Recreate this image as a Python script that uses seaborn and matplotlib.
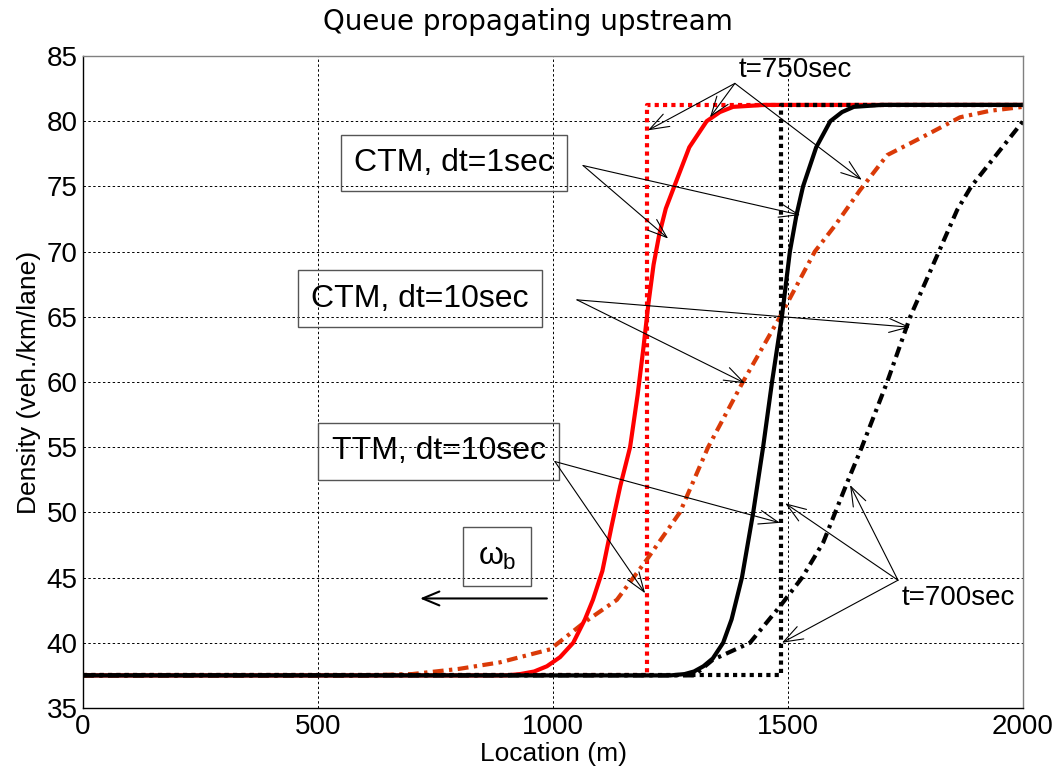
import numpy as np
import pandas as pd
import matplotlib
matplotlib.use("Agg")
import matplotlib.pyplot as plt
import seaborn as sns

# ---------------- data ----------------
# CTM, dt=1sec, t=750sec (red solid)
x_ctm1_750 = [0, 900, 930, 960, 987, 1015, 1043, 1068, 1085, 1105, 1125, 1143, 1164, 1180, 1192,
              1203, 1214, 1226, 1240, 1258, 1290, 1327, 1355, 1383, 1450, 2000]
y_ctm1_750 = [37.5, 37.5, 37.6, 37.8, 38.2, 38.9, 40, 41.8, 43.3, 45.5, 49, 52, 55, 59, 62.5,
              66, 69, 71.3, 73.3, 75, 78, 80, 80.7, 81.1, 81.25, 81.25]
# TTM, dt=10sec, t=750sec (red dotted)
x_ttm_750 = [0, 1200, 1200, 2000]
y_ttm_750 = [37.5, 37.5, 81.25, 81.25]
# CTM, dt=10sec, t=750sec (red dash-dot)
x_ctm10_750 = [0, 600, 700, 800, 887, 994, 1068, 1136, 1200, 1270, 1330, 1404, 1483,
               1557, 1600, 1653, 1711, 1787, 1866, 1930, 2000]
y_ctm10_750 = [37.5, 37.5, 37.6, 38.0, 38.5, 39.5, 41.6, 43.3, 46.4, 50, 55, 60, 65,
               70, 72, 74.7, 77.4, 78.8, 80.3, 80.8, 81.1]
# CTM, dt=1sec, t=700sec (black solid)
x_ctm1_700 = [0, 1250, 1280, 1300, 1320, 1340, 1362, 1380, 1402, 1426, 1447, 1466, 1487, 1504,
              1518, 1532, 1560, 1590, 1615, 1640, 1700, 2000]
y_ctm1_700 = [37.5, 37.5, 37.6, 37.8, 38.2, 38.8, 40, 41.8, 45, 50, 55, 60, 65, 70,
              72.8, 75, 78, 80, 80.7, 81.1, 81.25, 81.25]
# TTM, dt=10sec, t=700sec (black dotted)
x_ttm_700 = [0, 1485, 1485, 2000]
y_ttm_700 = [37.5, 37.5, 81.25, 81.25]
# CTM, dt=10sec, t=700sec (black dash-dot)
x_ctm10_700 = [0, 1300, 1340, 1419, 1483, 1530, 1575, 1626, 1657, 1711, 1760, 1821,
               1860, 1890, 2000]
y_ctm10_700 = [37.5, 37.5, 38.7, 40, 42.8, 45, 47.7, 52.3, 55, 60, 65, 70,
               73.2, 75, 80]

x_ticks = [0, 500, 1000, 1500, 2000]
y_ticks = [35, 40, 45, 50, 55, 60, 65, 70, 75, 80, 85]

title = "Queue propagating upstream"
xlabel = "Location (m)"
ylabel = "Density (veh./km/lane)"

# ---------------- style ----------------
sns.set_theme(style="white")
plt.rcParams['font.family'] = ['Liberation Sans', 'DejaVu Sans']
plt.rcParams['mathtext.fontset'] = 'custom'
plt.rcParams['mathtext.rm'] = 'Liberation Sans'
plt.rcParams['mathtext.it'] = 'Liberation Sans'
plt.rcParams['text.color'] = 'black'
plt.rcParams['axes.labelcolor'] = 'black'
plt.rcParams['xtick.color'] = 'black'
plt.rcParams['ytick.color'] = 'black'

RED = '#ff0000'
ORANGE = '#da3a08'
BLACK = '#000000'
LW = 3.0
dotted = (0, (1.0, 1.0))
dashdot = (0, (2.6, 1.3, 0.8, 1.3))

fig = plt.figure(figsize=(10.62, 7.76), dpi=100)
ax = fig.add_axes([83 / 1062, 1 - 708 / 776, 940 / 1062, 652 / 776])

series = [
    (x_ttm_750, y_ttm_750, RED, dotted),
    (x_ctm10_750, y_ctm10_750, ORANGE, dashdot),
    (x_ctm1_750, y_ctm1_750, RED, '-'),
    (x_ttm_700, y_ttm_700, BLACK, dotted),
    (x_ctm10_700, y_ctm10_700, BLACK, dashdot),
    (x_ctm1_700, y_ctm1_700, BLACK, '-'),
]
for xs, ys, col, ls in series:
    df = pd.DataFrame({'x': xs, 'y': ys})
    sns.lineplot(data=df, x='x', y='y', ax=ax, color=col, linewidth=LW,
                 estimator=None, sort=False, legend=False)
    line = ax.get_lines()[-1]
    line.set_linestyle(ls)
    line.set_dash_capstyle('butt')
    line.set_solid_capstyle('butt')
    line.set_solid_joinstyle('round')

ax.set_xlim(0, 2000)
ax.set_ylim(35, 85)
ax.set_xticks(x_ticks)
ax.set_yticks(y_ticks)
ax.tick_params(axis='both', labelsize=20, direction='in', length=5,
               colors='black', pad=4)
ax.grid(True, color='black', linestyle=(0, (2.5, 2.5)), linewidth=0.7)
for s in ['left', 'bottom']:
    ax.spines[s].set_color('black')
for s in ['top', 'right']:
    ax.spines[s].set_color('#808080')
for s in ax.spines.values():
    s.set_linewidth(1.0)

ax.set_xlabel(xlabel, fontsize=19, labelpad=2)
ax.set_ylabel(ylabel, fontsize=19, labelpad=4)
fig.text(528 / 1062, 1 - 22 / 776, title, fontsize=20, ha='center', va='center',
         family=['DejaVu Sans'])

# ---------------- annotations ----------------
arrow_kw = dict(arrowstyle='->,head_length=0.7,head_width=0.25', lw=0.8,
                color='black', shrinkA=0, shrinkB=0, mutation_scale=20)
box_kw = dict(boxstyle='square,pad=0.42', facecolor='none', edgecolor='#555555', lw=1.0)


def label_with_arrows(text, pos, start, tips, box=True, size=23):
    ax.text(pos[0], pos[1], text, fontsize=size, ha='center', va='center',
            bbox=box_kw if box else None, zorder=5)
    for tip in tips:
        ax.annotate('', xy=tip, xytext=start, arrowprops=arrow_kw, zorder=6)


label_with_arrows("t=750sec", (1515, 83.9), (1387, 82.9),
                  [(1202, 79.3), (1334, 80.3), (1657, 75.5)], box=False, size=20)
label_with_arrows("CTM, dt=1sec", (789, 76.8), (1064, 76.6),
                  [(1245, 71.0), (1526, 72.8)])
label_with_arrows("CTM, dt=10sec", (717, 66.4), (1051, 66.3),
                  [(1409, 59.9), (1760, 64.2)])
label_with_arrows("TTM, dt=10sec", (757, 54.7), (1004, 53.9),
                  [(1196, 43.8), (1483, 49.2)])
label_with_arrows("t=700sec", (1862, 43.4), (1734, 44.8),
                  [(1494, 50.7), (1632, 52.1), (1487, 40.0)], box=False, size=20)

ax.text(881, 46.6, r"$\omega_{\rm b}$", fontsize=23, ha='center', va='center',
        bbox=dict(boxstyle='square,pad=0.45', facecolor='none', edgecolor='#555555', lw=1.0))
ax.annotate('', xy=(717, 43.4), xytext=(987, 43.4),
            arrowprops=dict(arrowstyle='->,head_length=0.6,head_width=0.25', lw=1.5,
                            color='black', shrinkA=0, shrinkB=0, mutation_scale=20))

fig.savefig('out.png', dpi=100)
